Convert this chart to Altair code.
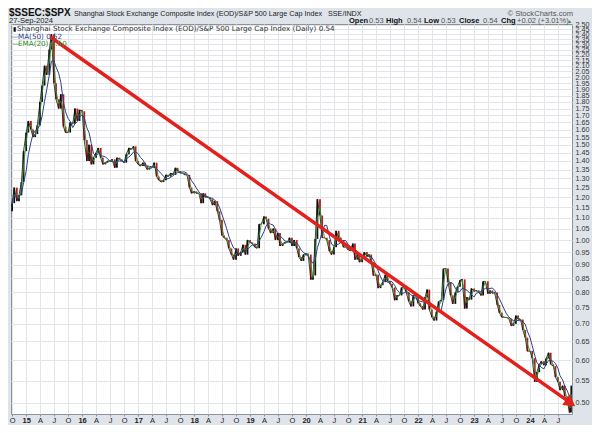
import altair as alt
import pandas as pd
import numpy as np

# Semi-monthly closes (1st and 15th of each month), $SSEC:$SPX ratio
v2014 = [1.17, 1.25, 1.18, 1.21, 1.28, 1.46]
v2015 = [1.58, 1.66, 1.60, 1.55, 1.57, 1.63, 1.80, 1.93, 2.10, 2.02, 2.25, 2.40,
         1.95, 1.82, 1.75, 1.86, 1.62, 1.58, 1.58, 1.65, 1.64, 1.75, 1.66, 1.74]
v2016 = [1.73, 1.53, 1.40, 1.50, 1.38, 1.42, 1.45, 1.48, 1.42, 1.38, 1.39, 1.40,
         1.40, 1.41, 1.36, 1.42, 1.41, 1.40, 1.39, 1.44, 1.48, 1.47, 1.49, 1.40]
v2017 = [1.38, 1.37, 1.39, 1.37, 1.35, 1.36, 1.36, 1.39, 1.31, 1.29, 1.28, 1.29,
         1.32, 1.31, 1.33, 1.32, 1.36, 1.34, 1.33, 1.33, 1.32, 1.32, 1.25, 1.22]
v2018 = [1.23, 1.22, 1.22, 1.17, 1.22, 1.20, 1.20, 1.19, 1.16, 1.18, 1.13, 1.09,
         1.02, 1.01, 1.00, 0.965, 0.94, 0.92, 0.965, 0.935, 0.95, 0.98, 0.94, 1.00]
v2019 = [0.99, 0.985, 0.97, 0.966, 1.07, 1.07, 1.105, 1.095, 1.05, 1.03, 1.05, 1.00,
         1.03, 0.975, 0.985, 0.99, 0.99, 1.01, 0.975, 1.00, 0.965, 0.93, 0.915, 0.94]
v2020 = [0.944, 0.94, 0.845, 0.86, 1.005, 1.19, 1.11, 1.01, 1.01, 1.00, 0.954, 0.94,
         0.97, 1.04, 1.01, 1.00, 0.97, 0.97, 0.96, 0.955, 0.985, 0.92, 0.94, 0.91]
v2021 = [0.925, 0.95, 0.935, 0.94, 0.91, 0.86, 0.863, 0.815, 0.825, 0.836, 0.863, 0.84,
         0.83, 0.817, 0.774, 0.79, 0.79, 0.817, 0.82, 0.80, 0.77, 0.754, 0.79, 0.79]
v2022 = [0.764, 0.755, 0.744, 0.784, 0.81, 0.744, 0.72, 0.71, 0.737, 0.77, 0.775, 0.885,
         0.886, 0.836, 0.79, 0.762, 0.80, 0.82, 0.843, 0.846, 0.747, 0.784, 0.776, 0.814]
v2023 = [0.804, 0.807, 0.80, 0.79, 0.838, 0.839, 0.796, 0.807, 0.797, 0.80, 0.759, 0.734,
         0.72, 0.72, 0.719, 0.716, 0.694, 0.70, 0.725, 0.714, 0.713, 0.682, 0.66, 0.623]
v2024 = [0.624, 0.605, 0.547, 0.57, 0.589, 0.597, 0.587, 0.604, 0.619, 0.589, 0.585, 0.558,
         0.547, 0.528, 0.538, 0.514, 0.503, 0.48]
last_dates = ["2024-09-24", "2024-09-27"]
last_vals = [0.50, 0.538]

# red trend line endpoints
trend_dates = ["2015-06-10", "2024-09-22"]
trend_vals = [2.37, 0.50]

# y tick labels
y_ticks = [round(0.50 + 0.05 * i, 2) for i in range(41)]

closes = v2014 + v2015 + v2016 + v2017 + v2018 + v2019 + v2020 + v2021 + v2022 + v2023 + v2024 + last_vals
dates = list(pd.date_range("2014-10-01", "2024-09-15", freq="SMS").strftime("%Y-%m-%d")) + last_dates

df = pd.DataFrame({"date": dates, "close": closes})
df["prev"] = df["close"].shift(1).fillna(1.13)
df["dir"] = np.where(df["close"] >= df["prev"], "up", "down")

trend = pd.DataFrame({"date": trend_dates, "close": trend_vals})
trend_end = trend.iloc[[1]]

RED = "#e3201b"

quarters = []
for yr in range(2014, 2025):
    for mo in (1, 4, 7, 10):
        if (yr, mo) >= (2014, 10) and (yr, mo) <= (2024, 7):
            quarters.append(alt.DateTime(year=yr, month=mo, date=1))

xscale = alt.Scale(domain=[alt.DateTime(year=2014, month=9, date=24),
                           alt.DateTime(year=2024, month=10, date=1)])
xaxis = alt.Axis(values=quarters, grid=True, gridColor="#e3e5e8", domain=False,
                 tickSize=2, tickColor="#888", labelPadding=0, labelFontSize=7.5,
                 labelFont="Liberation Sans", labelColor="#222",
                 labelExpr="month(datum.value)==0 ? timeFormat(datum.value, '%y') : "
                           "(month(datum.value)==3 ? 'A' : (month(datum.value)==6 ? 'J' : 'O'))",
                 labelFontWeight={"condition": {"test": "month(datum.value) == 0", "value": "bold"},
                                  "value": "normal"},
                 labelOverlap=False, labelFlush=False, title=None)
yscale = alt.Scale(type="log", domain=[0.477, 2.508], nice=False, zero=False)
yaxis = alt.Axis(orient="right", values=y_ticks, format=".2f", grid=True, gridColor="#e3e5e8",
                 domain=False, tickSize=0, labelPadding=3, labelFontSize=7.2,
                 labelFont="Liberation Sans", labelColor="#333", labelOverlap=False,
                 labelFlush=False, title=None)

X = alt.X("date:T", scale=xscale, axis=xaxis)
Y = alt.Y("close:Q", scale=yscale, axis=yaxis)

candles = alt.Chart(df).mark_rule(strokeWidth=1.8, clip=True).encode(
    x=X, y=alt.Y("prev:Q", scale=yscale, axis=yaxis), y2="close",
    color=alt.Color("dir:N", scale=alt.Scale(domain=["up", "down"], range=["#111111", "#c01818"]),
                    legend=None))
price = alt.Chart(df).mark_line(color="#111111", strokeWidth=0.8, clip=True).encode(x=X, y=Y)
ema = alt.Chart(df).transform_window(
    ema="mean(close)", frame=[-1, 0], sort=[alt.SortField("date")]
).mark_line(color="#2e8b2e", strokeWidth=0.9, clip=True).encode(
    x=X, y=alt.Y("ema:Q", scale=yscale, axis=yaxis))
ma = alt.Chart(df).transform_window(
    ma="mean(close)", frame=[-4, 0], sort=[alt.SortField("date")]
).mark_line(color="#2b3f8f", strokeWidth=1.0, clip=True).encode(
    x=X, y=alt.Y("ma:Q", scale=yscale, axis=yaxis))
trend_line = alt.Chart(trend).mark_line(color=RED, strokeWidth=3.5).encode(x=X, y=Y)
arrow = alt.Chart(trend_end).mark_point(shape="triangle-right", filled=True, size=170,
                                        angle=35, color=RED, opacity=1).encode(x=X, y=Y)

one = alt.Data(values=[{"k": 1}])


def txt(s, x, y, size=7.5, weight="normal", color="#222", font="Liberation Sans", align="left"):
    return alt.Chart(one).mark_text(text=s, align=align, baseline="alphabetic", fontSize=size,
                                    fontWeight=weight, color=color, font=font).encode(
        x=alt.value(x), y=alt.value(y))

# page x -> view x : subtract 11 ; page y -> view y : subtract 24
texts = [
    txt("$SSEC:$SPX", -2, -8, size=10, weight="bold", color="#111"),
    txt("Shanghai Stock Exchange Composite Index (EOD)/S&P 500 Large Cap Index", 63, -8, size=7.2),
    txt("SSE/INDX", 317, -8, size=7.2),
    txt("© StockCharts.com", 562, -8, size=7.6, color="#555", align="right"),
    txt("27-Sep-2024", -2, -1, size=7.6),
    txt("Open", 338, -1, weight="bold", color="#111"),
    txt("0.53", 358, -1, color="#555"),
    txt("High", 375, -1, weight="bold", color="#111"),
    txt("0.54", 396, -1, color="#555"),
    txt("Low", 413, -1, weight="bold", color="#111"),
    txt("0.53", 430, -1, color="#555"),
    txt("Close", 448, -1, weight="bold", color="#111"),
    txt("0.54", 472, -1, color="#555"),
    txt("Chg", 490, -1, weight="bold", color="#111"),
    txt("+0.02 (+3.01%)", 506, -1, color="#555"),
    txt("▲", 556, -1, size=5, color="#2a8a2a"),
    txt("▮", 2, 7, size=6, color="#111", font="DejaVu Sans"),
    txt("Shanghai Stock Exchange Composite Index (EOD)/S&P 500 Large Cap Index (Daily) 0.54",
        6, 7, size=7.2, color="#333", font="DejaVu Sans"),
    txt("—", 1, 14.5, size=7.2, color="#2b3f8f", font="DejaVu Sans"),
    txt("MA(50) 0.52", 7, 14.5, size=7.2, color="#2b3f8f", font="DejaVu Sans"),
    txt("—", 1, 22, size=7.2, color="#2e8b2e", font="DejaVu Sans"),
    txt("EMA(20) 0.50", 7, 22, size=7.2, color="#2e8b2e", font="DejaVu Sans"),
]

chart = alt.layer(candles, price, ema, ma, trend_line, arrow, *texts).properties(
    width=561, height=390,
    padding={"left": 3, "top": 16, "right": 20, "bottom": 11},
    autosize=alt.AutoSizeParams(type="none"),
    background="#dfe4ea",
).configure_view(fill="white", stroke="#8d939b", strokeWidth=1)

chart.save("out.html", embed_options={"renderer": "svg", "actions": False})
